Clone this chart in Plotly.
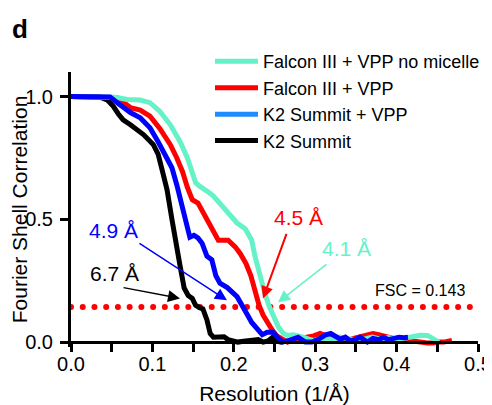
import plotly.graph_objects as go
import numpy as np

# ---- data ----
black_x = [0.0, 0.020, 0.035, 0.045, 0.052, 0.058, 0.064, 0.073, 0.089, 0.101, 0.107, 0.112, 0.118, 0.124,
           0.130, 0.134, 0.139, 0.144, 0.149, 0.153, 0.158, 0.162, 0.167, 0.171, 0.175, 0.182, 0.188, 0.193,
           0.198, 0.205, 0.212, 0.218, 0.224, 0.230, 0.236, 0.242, 0.247, 0.252, 0.258, 0.264]
black_y = [1.0, 1.0, 0.998, 0.985, 0.96, 0.93, 0.905, 0.885, 0.845, 0.805, 0.765, 0.70, 0.62, 0.50,
           0.40, 0.31, 0.22, 0.19, 0.178, 0.15, 0.14, 0.135, 0.09, 0.035, 0.02, 0.02, 0.022, 0.01,
           0.005, 0.0, 0.003, 0.005, 0.008, 0.01, 0.0, 0.005, 0.018, 0.005, 0.0, 0.005]

blue_x = [0.0, 0.030, 0.048, 0.060, 0.073, 0.085, 0.097, 0.107, 0.116, 0.124, 0.130, 0.137, 0.143, 0.146,
          0.151, 0.156, 0.161, 0.167, 0.173, 0.178, 0.183, 0.192, 0.204, 0.210, 0.216, 0.222, 0.229, 0.235,
          0.241, 0.248, 0.255, 0.260, 0.269, 0.279, 0.288, 0.296, 0.306, 0.313, 0.319, 0.325, 0.331, 0.337,
          0.343, 0.350, 0.355, 0.364, 0.371, 0.378, 0.384, 0.390, 0.396, 0.403, 0.409, 0.414]
blue_y = [1.0, 1.0, 0.998, 0.967, 0.935, 0.914, 0.873, 0.816, 0.763, 0.71, 0.64, 0.54, 0.45, 0.427,
          0.435, 0.424, 0.403, 0.35, 0.335, 0.27, 0.24, 0.222, 0.185, 0.145, 0.115, 0.08, 0.05, 0.03,
          0.04, 0.04, 0.015, 0.0, 0.008, 0.02, 0.0, 0.0, 0.015, 0.03, 0.035, 0.025, 0.012, 0.02,
          0.005, 0.012, 0.02, 0.0, 0.015, 0.01, 0.02, 0.01, 0.015, 0.02, 0.018, 0.02]

red_x = [0.0, 0.040, 0.057, 0.065, 0.073, 0.085, 0.097, 0.109, 0.122, 0.130, 0.137, 0.143, 0.149, 0.156,
         0.165, 0.173, 0.181, 0.193, 0.202, 0.208, 0.215, 0.221, 0.226, 0.231, 0.236, 0.241, 0.247, 0.253,
         0.260, 0.266, 0.272, 0.278, 0.284, 0.290, 0.298, 0.306, 0.314, 0.322, 0.330, 0.339, 0.347, 0.355,
         0.363, 0.371, 0.378, 0.384, 0.390, 0.396, 0.405, 0.413, 0.425, 0.438, 0.445, 0.450, 0.458, 0.468]
red_y = [1.0, 1.0, 0.995, 0.975, 0.955, 0.945, 0.92, 0.87, 0.804, 0.75, 0.694, 0.63, 0.58, 0.566,
         0.51, 0.456, 0.415, 0.415, 0.387, 0.36, 0.32, 0.27, 0.21, 0.15, 0.11, 0.08, 0.05, 0.025,
         0.01, 0.0, 0.01, 0.015, 0.01, 0.02, 0.025, 0.035, 0.025, 0.02, 0.01, 0.007, 0.015, 0.02,
         0.025, 0.035, 0.03, 0.027, 0.02, 0.015, 0.01, 0.007, 0.0, -0.004, -0.004, 0.0, 0.0, 0.007]

cyan_x = [0.0, 0.040, 0.055, 0.069, 0.085, 0.097, 0.109, 0.122, 0.134, 0.143, 0.149, 0.153, 0.158, 0.163,
          0.169, 0.175, 0.183, 0.193, 0.204, 0.214, 0.222, 0.226, 0.232, 0.238, 0.243, 0.249, 0.255, 0.261,
          0.266, 0.273, 0.279, 0.285, 0.292, 0.298, 0.306, 0.314, 0.322, 0.330, 0.340, 0.350, 0.360, 0.370,
          0.380, 0.390, 0.400, 0.410, 0.420, 0.429, 0.438, 0.445, 0.452]
cyan_y = [1.0, 1.0, 0.997, 0.988, 0.986, 0.975, 0.94, 0.885, 0.816, 0.75, 0.69, 0.65, 0.635, 0.625,
          0.61, 0.595, 0.566, 0.525, 0.485, 0.462, 0.415, 0.35, 0.27, 0.2, 0.15, 0.1, 0.06, 0.035,
          0.027, 0.03, 0.027, 0.02, 0.012, 0.007, 0.012, 0.016, 0.01, 0.02, 0.014, 0.01, 0.012, 0.02,
          0.012, 0.018, 0.01, 0.015, 0.022, 0.028, 0.027, 0.015, 0.0]

series_names = ["Falcon III + VPP no micelle", "Falcon III + VPP", "K2 Summit + VPP", "K2 Summit"]
fsc_threshold = 0.143
fsc_label = "FSC = 0.143"
res_labels = ["4.1 Å", "4.5 Å", "4.9 Å", "6.7 Å"]
x_ticks = [0.0, 0.1, 0.2, 0.3, 0.4, 0.5]
y_ticks = [0.0, 0.5, 1.0]

# ---- styling ----
CYAN = "#66F2C8"
RED = "#FF0000"
BLUE = "#0000FF"
LIGHTBLUE = "#1E8CFF"
BLACK = "#000000"
FONT = "Arial, Liberation Sans, sans-serif"
LW = 5

fig = go.Figure()

dot_x = np.arange(0, 35) * 0.01441
fig.add_trace(go.Scatter(x=dot_x, y=[fsc_threshold] * len(dot_x), mode="markers",
                         marker=dict(color=RED, size=6), cliponaxis=False, showlegend=False,
                         hoverinfo="skip"))
fig.add_trace(go.Scatter(x=black_x, y=black_y, mode="lines", line=dict(color=BLACK, width=LW),
                         name=series_names[3], legendrank=4))
fig.add_trace(go.Scatter(x=red_x, y=red_y, mode="lines", line=dict(color=RED, width=LW),
                         name=series_names[1], legendrank=2))
fig.add_trace(go.Scatter(x=cyan_x, y=cyan_y, mode="lines", line=dict(color=CYAN, width=LW),
                         name=series_names[0], legendrank=1))
fig.add_trace(go.Scatter(x=blue_x, y=blue_y, mode="lines", line=dict(color=BLUE, width=LW),
                         name=series_names[2], showlegend=False))
fig.add_trace(go.Scatter(x=[None], y=[None], mode="lines", line=dict(color=LIGHTBLUE, width=LW),
                         name=series_names[2], legendrank=3))

# arrows: (head x, head y, tail x, tail y, color, width)
arrows = [
    (0.1916, 0.170, 0.0823, 0.406, BLUE, 1.5),
    (0.1339, 0.178, 0.0627, 0.223, BLACK, 1.5),
    (0.2359, 0.178, 0.2654, 0.447, RED, 2.0),
    (0.2543, 0.162, 0.3157, 0.321, CYAN, 1.5),
]
anns = []
for hx, hy, tx, ty, col, w in arrows:
    anns.append(dict(x=hx, y=hy, ax=tx, ay=ty, xref="x", yref="y", axref="x", ayref="y",
                     text="", showarrow=True, arrowhead=2, arrowsize=1.6 * 1.5 / w,
                     arrowwidth=w, arrowcolor=col))
labels = [
    (0.339, 0.382, res_labels[0], CYAN, 21),
    (0.279, 0.508, res_labels[1], RED, 21),
    (0.0528, 0.455, res_labels[2], BLUE, 21),
    (0.054, 0.280, res_labels[3], BLACK, 21),
    (0.4287, 0.211, fsc_label, BLACK, 16),
]
for x, y, t, col, sz in labels:
    anns.append(dict(x=x, y=y, xref="x", yref="y", text=t, showarrow=False,
                     font=dict(color=col, size=sz, family=FONT)))
anns.append(dict(x=-0.15, y=1.157, xref="paper", yref="paper", xanchor="left", yanchor="middle",
                 text="<b>d</b>", showarrow=False, font=dict(size=26, family=FONT, color=BLACK)))

# The page body has an 8px margin, so the figure is 8px smaller than the window
fig.update_layout(
    width=484, height=397,
    margin=dict(l=63, r=14, t=64, b=58.4, autoexpand=False),
    plot_bgcolor="white", paper_bgcolor="white",
    font=dict(family=FONT, color=BLACK),
    showlegend=True,
    legend=dict(x=0.3415, y=1.105, xanchor="left", yanchor="top", bgcolor="rgba(0,0,0,0)",
                font=dict(size=18, family=FONT, color=BLACK), itemwidth=43,
                tracegroupgap=0),
    annotations=anns,
    xaxis=dict(range=[0, 0.5], anchor="free", position=0.02 / 1.12, automargin=False,
               showline=True, linewidth=3, linecolor=BLACK, mirror=False,
               ticks="outside", ticklen=8, tickwidth=3, tickcolor=BLACK,
               tickmode="array", tickvals=x_ticks, ticktext=[f"{v:.1f}" for v in x_ticks],
               tickfont=dict(size=20), showgrid=False, zeroline=False, ticklabelstandoff=-5,
               minor=dict(ticks="outside", ticklen=8, tickwidth=3, tickcolor=BLACK,
                          tickmode="array", tickvals=[0.05, 0.15, 0.25, 0.35, 0.45], showgrid=False),
               title=dict(text="Resolution (1/Å)", font=dict(size=21), standoff=14)),
    yaxis=dict(range=[-0.02, 1.1], showline=True, linewidth=3, linecolor=BLACK, automargin=False,
               ticks="outside", ticklen=8, tickwidth=3, tickcolor=BLACK,
               tickmode="array", tickvals=y_ticks, ticktext=[f"{v:.1f}" for v in y_ticks],
               tickfont=dict(size=20), showgrid=False, zeroline=False, ticklabelstandoff=3,
               title=dict(text="Fourier Shell Correlation", font=dict(size=21), standoff=6)),
)

fig.write_html("out.html")
